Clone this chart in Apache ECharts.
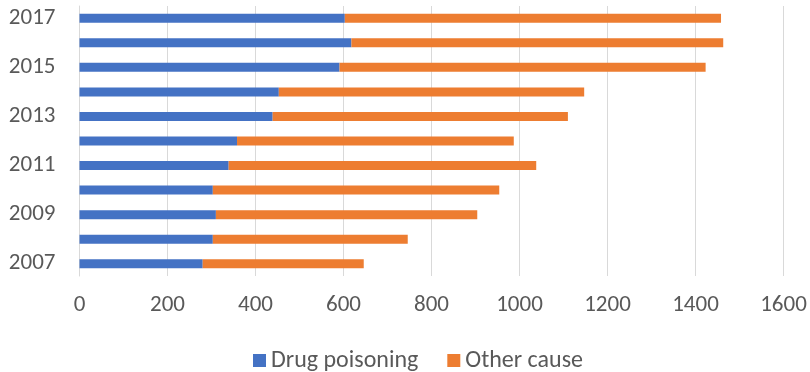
<!DOCTYPE html>
<html>
<head>
<meta charset="utf-8">
<script src="https://cdn.jsdelivr.net/npm/echarts@6/dist/echarts.min.js"></script>
<style>
html,body{margin:0;padding:0;background:#fff;}
#chart{width:810px;height:372px;}
</style>
</head>
<body>
<div id="chart"></div>
<script>
var years = ['2007','2008','2009','2010','2011','2012','2013','2014','2015','2016','2017'];
var drugPoisoning = [280, 303, 310, 303, 339, 358, 439, 453, 591, 618, 603];
var otherCause = [366, 443, 594, 651, 699, 629, 671, 694, 832, 845, 855];
var xTicks = {min: 0, max: 1600, interval: 200};

var FONT = "Carlito, 'Liberation Sans Narrow', Roboto, sans-serif";
var chart = echarts.init(document.getElementById('chart'), null, {renderer: 'canvas'});
chart.setOption({
  animation: false,
  textStyle: {fontFamily: FONT},
  grid: {left: 79.5, right: 26.5, top: 6, bottom: 96, containLabel: false},
  legend: {
    top: 348,
    left: 253,
    padding: 0,
    itemWidth: 13,
    itemHeight: 13,
    itemGap: 29,
    icon: 'rect',
    textStyle: {fontFamily: FONT, fontSize: 24, color: '#595959', padding: [0, 0, 0, 0], lineHeight: 25},
    data: ['Drug poisoning', 'Other cause']
  },
  xAxis: {
    type: 'value',
    min: xTicks.min,
    max: xTicks.max,
    interval: xTicks.interval,
    axisLine: {show: false},
    axisTick: {show: false},
    splitLine: {show: true, lineStyle: {color: '#d9d9d9', width: 1}},
    axisLabel: {color: '#595959', fontSize: 23, fontFamily: FONT, margin: 18,
      formatter: function (v) { return String(v); }}
  },
  yAxis: {
    type: 'category',
    data: years,
    axisLine: {show: true, lineStyle: {color: '#d9d9d9', width: 1}},
    axisTick: {show: false},
    axisLabel: {color: '#595959', fontSize: 23, fontFamily: FONT, margin: 24, interval: 1}
  },
  series: [
    {name: 'Drug poisoning', type: 'bar', stack: 'total', data: drugPoisoning, barWidth: 9,
     itemStyle: {color: '#4472C4'}},
    {name: 'Other cause', type: 'bar', stack: 'total', data: otherCause, barWidth: 9,
     itemStyle: {color: '#ED7D31'}}
  ]
});
</script>
</body>
</html>
